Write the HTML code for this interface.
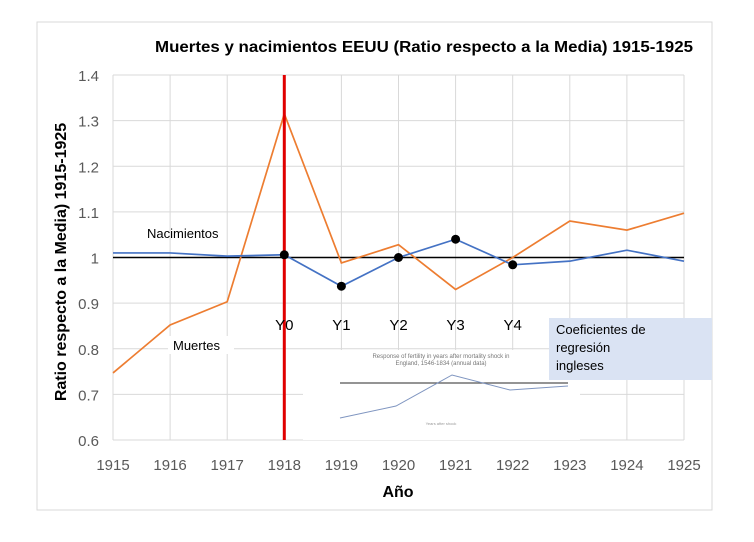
<!DOCTYPE html>
<html><head><meta charset="utf-8"><style>
body{margin:0;background:#fff;font-family:"Liberation Sans","DejaVu Sans",sans-serif;}
svg text{font-family:"Liberation Sans","DejaVu Sans",sans-serif;}
</style></head><body>
<svg width="754" height="537" xmlns="http://www.w3.org/2000/svg">
<rect x="37" y="22" width="675" height="488" fill="#fff" stroke="#d9d9d9"/>
<text x="155" y="52" font-size="16" font-weight="bold" fill="#000" textLength="538" lengthAdjust="spacingAndGlyphs">Muertes y nacimientos EEUU (Ratio respecto a la Media) 1915-1925</text>
<g id="grid"></g>
<g id="ticks"></g>
<text transform="translate(66,262) rotate(-90)" text-anchor="middle" font-size="16" font-weight="bold">Ratio respecto a la Media) 1915-1925</text>
<text x="398" y="497" text-anchor="middle" font-size="16" font-weight="bold">Año</text>
<g id="series"></g>
<g>
<rect x="303" y="350" width="277" height="90" fill="#fff"/>
<text x="441" y="358" text-anchor="middle" font-size="6" fill="#777">Response of fertility in years after mortality shock in</text>
<text x="441" y="365" text-anchor="middle" font-size="6" fill="#777">England, 1546-1834 (annual data)</text>
<line x1="340" y1="383" x2="568" y2="383" stroke="#555" stroke-width="1.2"/>
<polyline points="340,418 396,406 452,375 510,390 568,386" fill="none" stroke="#7f95c0" stroke-width="1"/>
<text x="441" y="425" text-anchor="middle" font-size="4" fill="#999">Years after shock</text>
</g>
<rect x="549" y="318" width="163" height="62" fill="#dae3f3"/>
<text font-size="13" fill="#000"><tspan x="556" y="334">Coeficientes de</tspan><tspan x="556" y="352">regresión</tspan><tspan x="556" y="370">ingleses</tspan></text>
<rect x="168" y="336" width="66" height="18" fill="#fff"/>
<text x="173" y="350" font-size="13">Muertes</text>
<text x="147" y="238" font-size="13">Nacimientos</text>
</svg>
<script>
const years=[1915,1916,1917,1918,1919,1920,1921,1922,1923,1924,1925];
const muertes=[0.747,0.852,0.903,1.315,0.988,1.028,0.93,1.0,1.08,1.06,1.097];
const nacimientos=[1.01,1.01,1.003,1.006,0.937,1.0,1.04,0.984,0.992,1.016,0.992];
const yTicks=[0.6,0.7,0.8,0.9,1.0,1.1,1.2,1.3,1.4];
const yTickLabels=["0.6","0.7","0.8","0.9","1","1.1","1.2","1.3","1.4"];
const markedIdx=[3,4,5,6,7];
const markedLabels=["Y0","Y1","Y2","Y3","Y4"];
const NS="http://www.w3.org/2000/svg";
const X=i=>113+i*57.1;
const Y=v=>440-(v-0.6)/0.8*365;
function mk(tag,attrs,parent,txt){const e=document.createElementNS(NS,tag);for(const k in attrs)e.setAttribute(k,attrs[k]);if(txt!==undefined)e.textContent=txt;document.getElementById(parent).appendChild(e);return e;}
yTicks.forEach((v,i)=>{
 const l=mk('line',{x1:113,x2:684,y1:Y(v),y2:Y(v),stroke:'#d9d9d9'},'grid');
 
 
 const t=mk('text',{x:99,y:Y(v)+6,'text-anchor':'end','font-size':15,fill:'#595959'},'ticks',yTickLabels[i]);
 
 
});
years.forEach((yr,i)=>{
 const l=mk('line',{x1:X(i),x2:X(i),y1:75,y2:440,stroke:'#d9d9d9'},'grid');
 
 
 const t=mk('text',{x:X(i),y:470,'text-anchor':'middle','font-size':15,fill:'#595959'},'ticks',yr);
 
 
});
const ref=mk('line',{x1:X(0),x2:X(years.length-1),y1:Y(1),y2:Y(1),stroke:'#000','stroke-width':1.5},'series');


const pm=mk('polyline',{points:muertes.map((v,i)=>X(i)+','+Y(v)).join(' '),fill:'none',stroke:'#ed7d31','stroke-width':1.7},'series');


const pn=mk('polyline',{points:nacimientos.map((v,i)=>X(i)+','+Y(v)).join(' '),fill:'none',stroke:'#4472c4','stroke-width':1.7},'series');


const red=mk('line',{x1:X(3),x2:X(3),y1:75,y2:440,stroke:'#e00000','stroke-width':3},'series');


markedIdx.forEach((idx,k)=>{
 const c=mk('circle',{cx:X(idx),cy:Y(nacimientos[idx]),r:4.5,fill:'#000'},'series');
 
 
 const t=mk('text',{x:X(idx),y:330,'text-anchor':'middle','font-size':15},'series',markedLabels[k]);
 
 
});
</script>
</body></html>
